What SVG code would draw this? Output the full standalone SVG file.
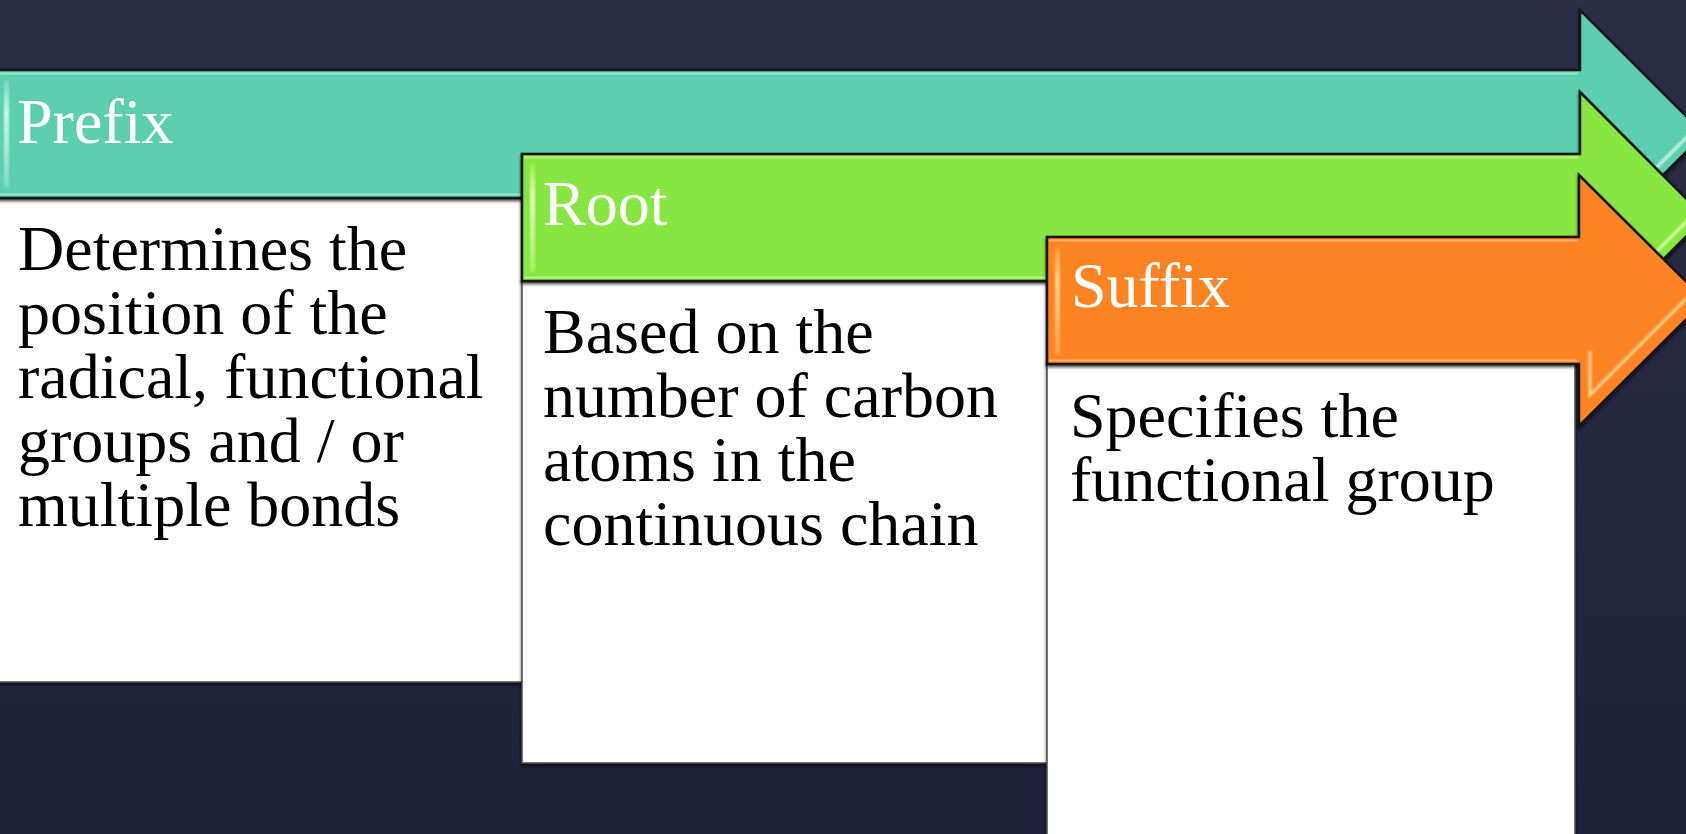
<svg xmlns="http://www.w3.org/2000/svg" width="1686" height="834" viewBox="0 0 1686 834">
  <defs>
    <linearGradient id="bg" x1="0" y1="0" x2="0" y2="1">
      <stop offset="0" stop-color="#2c2d46"/>
      <stop offset="1" stop-color="#1e1f38"/>
    </linearGradient>
    <linearGradient id="stripTeal" x1="0" y1="0" x2="0" y2="1">
      <stop offset="0" stop-color="#d8fff4" stop-opacity="0.2"/>
      <stop offset="0.3" stop-color="#d8fff4" stop-opacity="0.9"/>
      <stop offset="1" stop-color="#d8fff4" stop-opacity="0.3"/>
    </linearGradient>
    <linearGradient id="stripGreen" x1="0" y1="0" x2="0" y2="1">
      <stop offset="0" stop-color="#f4ffc8" stop-opacity="0.2"/>
      <stop offset="0.3" stop-color="#f4ffc8" stop-opacity="0.9"/>
      <stop offset="1" stop-color="#f4ffc8" stop-opacity="0.3"/>
    </linearGradient>
    <linearGradient id="stripOrange" x1="0" y1="0" x2="0" y2="1">
      <stop offset="0" stop-color="#ffe29a" stop-opacity="0.2"/>
      <stop offset="0.3" stop-color="#ffe29a" stop-opacity="0.9"/>
      <stop offset="1" stop-color="#ffe29a" stop-opacity="0.3"/>
    </linearGradient>
    <filter id="shadow" x="-5%" y="-5%" width="110%" height="115%">
      <feDropShadow dx="0" dy="2" stdDeviation="1.5" flood-color="#000" flood-opacity="0.7"/>
    </filter>
    <filter id="soft" x="-20%" y="-20%" width="140%" height="140%">
      <feGaussianBlur stdDeviation="0.8"/>
    </filter>
  </defs>
  <style>
    .box { fill: #ffffff; stroke: #4a4a4a; stroke-width: 1.5; filter: url(#shadow); }
    .arrow { stroke: #161616; stroke-width: 2.5; stroke-linejoin: miter; filter: url(#shadow); }
    .teal { fill: #5dcfae; }
    .green { fill: #87e642; }
    .orange { fill: #fe8324; }
    .edge { fill: none; stroke-width: 2; opacity: 0.55; }
    .hl { fill: none; stroke-width: 3; stroke-linecap: round; filter: url(#soft); }
    .head { font-family: "Liberation Serif", "Times New Roman", serif; font-size: 64px; fill: #ffffff; }
    .body { font-family: "Liberation Serif", "Times New Roman", serif; font-size: 64px; fill: #000000; }
  </style>

  <rect x="0" y="0" width="1686" height="834" fill="url(#bg)"/>

  <!-- Prefix -->
  <g id="prefix">
    <rect class="box" x="-4" y="196" width="560" height="486"/>
    <path class="arrow teal" d="M-4,70 H1580 V10 L1704,134 L1580,258 V198 H-4 Z"/>
    <path class="edge" stroke="#c6f7ea" d="M0,73.5 H1578 M0,194.5 H1578"/>
    <rect x="4" y="80" width="5" height="108" rx="2.5" fill="url(#stripTeal)" filter="url(#soft)"/>
    <path class="hl" stroke="#d2fff2" d="M1589,32 V84"/>
    <path class="hl" stroke="#d2fff2" opacity="0.9" d="M1652,172 L1704,120"/>
    <text class="head" x="17" y="143">Prefix</text>
    <text class="body">
      <tspan x="18" y="270">Determines the</tspan>
      <tspan x="18" y="334">position of the</tspan>
      <tspan x="18" y="398">radical, functional</tspan>
      <tspan x="18" y="462">groups and / or</tspan>
      <tspan x="18" y="526">multiple bonds</tspan>
    </text>
  </g>

  <!-- Root -->
  <g id="root">
    <rect class="box" x="522" y="279" width="560" height="484"/>
    <path class="arrow green" d="M522,154 H1580 V92 L1705,217.5 L1580,343 V281 H522 Z"/>
    <path class="edge" stroke="#eaffc0" d="M524,157.5 H1578 M524,277.5 H1578"/>
    <rect x="530" y="164" width="5" height="108" rx="2.5" fill="url(#stripGreen)" filter="url(#soft)"/>
    <path class="hl" stroke="#eeffbe" d="M1589,112 V166"/>
    <path class="hl" stroke="#e6ffb0" opacity="0.9" d="M1652,256 L1704,204"/>
    <text class="head" x="543" y="225">Root</text>
    <text class="body">
      <tspan x="543" y="353">Based on the</tspan>
      <tspan x="543" y="417">number of carbon</tspan>
      <tspan x="543" y="481">atoms in the</tspan>
      <tspan x="543" y="545">continuous chain</tspan>
    </text>
  </g>

  <!-- Suffix -->
  <g id="suffix">
    <rect class="box" x="1047" y="362" width="528" height="490"/>
    <path class="arrow orange" d="M1047,237 H1579 V175 L1705,300.5 L1579,426 V364 H1047 Z"/>
    <path class="edge" stroke="#ffd9a0" d="M1049,240.5 H1577 M1049,360.5 H1577"/>
    <rect x="1055" y="247" width="5" height="108" rx="2.5" fill="url(#stripOrange)" filter="url(#soft)"/>
    <path class="hl" stroke="#ffe7a8" d="M1589,195 V249"/>
    <path class="hl" stroke="#ffe0a0" opacity="0.9" d="M1590,352 V395 L1686,299"/>
    <text class="head" x="1071" y="307">Suffix</text>
    <text class="body">
      <tspan x="1070" y="437">Specifies the</tspan>
      <tspan x="1070" y="501">functional group</tspan>
    </text>
  </g>
</svg>
